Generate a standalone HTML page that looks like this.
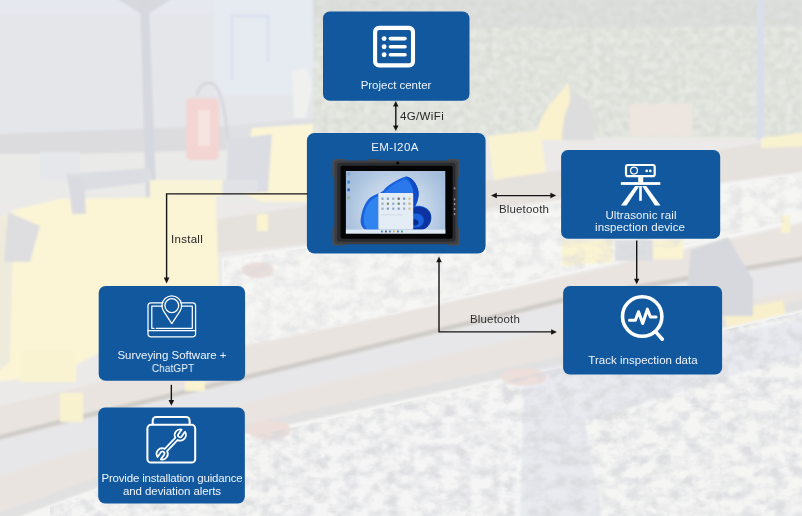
<!DOCTYPE html>
<html lang="en">
<head>
<meta charset="utf-8">
<title>EM-I20A rail inspection workflow</title>
<style>
  html, body { margin: 0; padding: 0; }
  body { width: 802px; height: 516px; overflow: hidden; background: #e9e8e6; font-family: "Liberation Sans", sans-serif; }
  #stage { position: relative; width: 802px; height: 516px; overflow: hidden; }
  #bg, #fg { position: absolute; left: 0; top: 0; width: 802px; height: 516px; }
  .t { position: absolute; width: 200px; text-align: center; font-size: 11.5px; line-height: 12px; white-space: nowrap; will-change: transform; }
</style>
</head>
<body>
<div id="stage">
<svg id="bg" viewBox="0 0 802 516">
  <defs>
    <filter id="b1" x="-5%" y="-5%" width="110%" height="110%"><feGaussianBlur stdDeviation="0.800"/></filter>
    <filter id="b2" x="-5%" y="-5%" width="110%" height="110%"><feGaussianBlur stdDeviation="0.900"/></filter>
    <filter id="nzveg" x="0" y="0" width="100%" height="100%" color-interpolation-filters="sRGB">
      <feTurbulence type="fractalNoise" baseFrequency="0.140 0.160" numOctaves="3" seed="7" result="n"/>
      <feColorMatrix in="n" type="matrix" values="0 0 0 0 0.820  0 0 0 0 0.835  0 0 0 0 0.800  1.600 1.600 0 0 -1.100"/>
      <feGaussianBlur stdDeviation="0.700"/>
      <feComposite operator="in" in2="SourceGraphic"/>
    </filter>
    <filter id="nzgrav" x="0" y="0" width="100%" height="100%" color-interpolation-filters="sRGB">
      <feTurbulence type="fractalNoise" baseFrequency="0.070 0.090" numOctaves="3" seed="11" result="n"/>
      <feColorMatrix in="n" type="matrix" values="0 0 0 0 0.840  0 0 0 0 0.845  0 0 0 0 0.860  1.800 1.800 0 0 -1.450"/>
      <feGaussianBlur stdDeviation="0.700"/>
      <feComposite operator="in" in2="SourceGraphic"/>
    </filter>
  </defs>
  <rect width="802" height="516" fill="#ebeae8"/>
  <g filter="url(#b2)">
    <!-- top-left container -->
    <rect x="-5" y="-5" width="318" height="138" fill="#e4e6ea"/>
    <rect x="-5" y="-5" width="318" height="19" fill="#e5e8ef"/>
    <rect x="215" y="0" width="98" height="95" fill="#e6eaf1"/>
    <path d="M232 80 V16 H268 V62" fill="none" stroke="#d9e1ee" stroke-width="2.500"/>
    <polygon points="292,72 306,68 312,84 306,118 294,118" fill="#f0f0ef"/>
    <polygon points="-5,134 225,126 225,150 -5,156" fill="#dcdcde"/>
    <polygon points="225,126 313,118 313,132 225,150" fill="#dfe0e3"/>
    <rect x="-5" y="154" width="330" height="50" fill="#eaeae8"/>
    <polygon points="113,-4 176,-4 150,13 139,13" fill="#d7d9df"/>
    <polygon points="140,0 148.800,0 156.500,200 146,200" fill="#d6d8df"/>
    <rect x="186" y="98" width="33" height="62" rx="5" fill="#f3d5d3"/>
    <rect x="198" y="110" width="12" height="36" fill="#f6e4e2"/>
    <path d="M197 96 C199 82 212 78 218 90 C224 102 226 120 228 140" fill="none" stroke="#d6d6da" stroke-width="2.500"/>
    <polygon points="252,128 313,124 313,202 262,202 240,192" fill="#fbf5d6"/>
    <polygon points="228,140 272,134 268,192 226,194" fill="#dcdde3"/>
    <rect x="40" y="152" width="40" height="28" fill="#e6e7ea"/>
    <polygon points="66,174 150,168 152,182 70,192" fill="#dcdde2"/>
    <!-- far rail -->
    <polygon points="200,222 306,206 490,180 565,170 720,150 810,134 810,170 720,182 565,198 490,208 306,244 200,254" fill="#e5e1dd"/>
    <!-- gravel between rails -->
    <polygon points="222,258 306,246 490,212 565,200 720,184 810,172 810,220 565,275 245,349 222,352" fill="#f6f6f4"/>
    <!-- yellow machine -->
    <polygon points="-5,222 14,210 60,199 216,196 219,300 219,352 100,352 60,374 -5,382" fill="#fbf5d6"/>
    <polygon points="-5,222 14,212 10,362 -5,374" fill="#eeebdc"/>
    <polygon points="8,212 40,226 30,262 4,262" fill="#dedee0"/><polygon points="68,178 84,178 86,214 72,214" fill="#dadbe0"/>
    <polygon points="150,180 222,180 222,196 150,202" fill="#faf4d6"/>
    <rect x="223" y="180" width="35" height="13" fill="#e1e2e5"/>
    <rect x="257" y="214" width="11" height="17" fill="#fbf4d0"/>
    <ellipse cx="258" cy="270" rx="16" ry="8" fill="#ebdfdb"/>
    <!-- vegetation top-right -->
    <rect x="313" y="18" width="500" height="120" fill="#e7e9e4"/>
    <rect x="313" y="-5" width="500" height="32" fill="#e0e1e0"/>
    <rect x="313" y="0" width="489" height="137" filter="url(#nzveg)" opacity="0.600"/>
    <rect x="757" y="0" width="7" height="140" fill="#dadeea"/>
    <path d="M568 82 C 560 96 541 106 535 140 L 571 140 C 566 120 572 100 568 82z" fill="#faf1cf"/>
    <path d="M578 95 C 590 98 596 120 594 140 L 562 140 C 562 118 568 100 578 95z" fill="#dddddd"/>
    <rect x="630" y="104" width="62" height="32" fill="#ede6e0"/>
    <polygon points="488,136 540,130 546,172 494,180" fill="#faf3d2"/>
    <!-- near rail -->
    <polygon points="-5,407 50,394 245,346 565,277 810,222 810,306 565,363 245,432 50,503 -5,524" fill="#eae4e0"/>
    <polygon points="-5,441 50,427 245,380 565,302 810,260 810,290 565,327 245,403 50,460 -5,478" fill="#e7e6e8"/>
    <polygon points="-5,436 50,422 245,375 565,297 810,255 810,260 565,302 245,380 50,427 -5,441" fill="#d0cdc9"/>
    <polygon points="-5,514 50,494 245,424 565,355 810,298 810,308 565,365 245,434 50,505 -5,526" fill="#e1e1e1"/>
    <polygon points="724,312 783,300 786,318 728,334" fill="#f8f0cc"/>
    <polygon points="691,250 728,237 753,280 753,316 700,316 687,290" fill="#d7d8dd"/>
    <rect x="781" y="215" width="9" height="18" fill="#f9f2d0"/>
    <polygon points="761,138 810,132 810,146 761,148" fill="#f9f2d0"/>
    <polygon points="562,240 613,240 613,262 562,266" fill="#fbf4d2"/>
    <rect x="653" y="240" width="30" height="19" fill="#fbf4d2"/>
    <rect x="615" y="240" width="38" height="21" fill="#dddee1"/>
    <rect x="185" y="381" width="20" height="10" fill="#faf3d0"/>
    <!-- clamps bottom-left -->
    <rect x="60" y="393" width="23" height="29" fill="#f9f2cf"/>
    <rect x="20" y="350" width="56" height="32" fill="#faf3d2"/>
    <!-- gravel bottom -->
    <polygon points="-5,526 50,505 245,434 565,365 810,308 810,520 -5,520" fill="#f5f5f4"/>
    <polygon points="524,372 810,318 810,352 585,421 602,520 520,520" fill="#e8eaef"/>
    <polygon points="280,445 520,395 520,520 280,520" fill="#f5f5f5"/>
    <ellipse cx="269" cy="430" rx="22" ry="10" fill="#ecdeda"/>
    <ellipse cx="524" cy="377" rx="23" ry="9" fill="#ecdeda"/>
  </g>
  <polygon points="50,507 245,438 565,367 802,312 802,516 50,516" filter="url(#nzgrav)" opacity="0.700"/>
  <polygon points="224,260 306,248 306,254 486,254 486,214 565,202 720,186 802,174 802,218 565,273 245,347 224,350" filter="url(#nzgrav)" opacity="0.450"/>
</svg>

<svg id="fg" viewBox="0 0 802 516">
  <defs>
    <radialGradient id="wp" gradientUnits="userSpaceOnUse" cx="397" cy="212" r="62">
      <stop offset="0" stop-color="#d3e0ee"/><stop offset="0.450" stop-color="#c6d7ea"/><stop offset="0.800" stop-color="#aac2de"/><stop offset="1" stop-color="#9fb9d8"/>
    </radialGradient>
  </defs>
  <!-- boxes -->
  <g fill="#11589e">
    <rect x="323" y="11.600" width="146.500" height="89.200" rx="6.800"/>
    <rect x="306.900" y="133.100" width="178.700" height="120.400" rx="7.500"/>
    <rect x="561.100" y="149.900" width="159.100" height="88.800" rx="6.800"/>
    <rect x="563.100" y="285.900" width="159" height="88.700" rx="6.800"/>
    <rect x="98.700" y="286" width="146.400" height="94.700" rx="6.800"/>
    <rect x="98.200" y="407.600" width="146.650" height="95.800" rx="6.800"/>
  </g>
  <!-- connectors -->
  <g stroke="#141414" stroke-width="1.400" fill="none">
    <path d="M395.800 105 V127"/>
    <path d="M307.500 193.850 H166.600 V279"/>
    <path d="M171.350 384.800 V401"/>
    <path d="M495 195.600 H552"/>
    <path d="M439 261 V331.900 H552"/>
    <path d="M636.700 240.600 V280"/>
  </g>
  <g fill="#141414">
    <path d="M395.800 101 l-2.700 5.600 h5.400z"/>
    <path d="M395.800 131 l-2.700 -5.600 h5.400z"/>
    <path d="M166.600 283.400 l-2.800 -5.800 h5.600z"/>
    <path d="M171.350 405.800 l-2.800 -5.700 h5.600z"/>
    <path d="M491 195.600 l5.800 -2.750 v5.500z"/>
    <path d="M556.200 195.600 l-5.800 -2.750 v5.500z"/>
    <path d="M439 256.500 l-2.750 5.800 h5.500z"/>
    <path d="M556.900 331.900 l-5.800 -2.750 v5.500z"/>
    <path d="M636.700 284.300 l-2.700 -5.500 h5.400z"/>
  </g>

  <!-- icon: project center (list) -->
  <g>
    <rect x="375.100" y="27.900" width="37.900" height="37.500" rx="4" fill="none" stroke="#fff" stroke-width="4.100"/>
    <g fill="#fff">
      <circle cx="384.100" cy="38.600" r="2.450"/><rect x="388.600" y="36.800" width="18.200" height="3.600" rx="1.800"/>
      <circle cx="384.100" cy="46.700" r="2.450"/><rect x="388.600" y="44.900" width="18.200" height="3.600" rx="1.800"/>
      <circle cx="384.100" cy="54.750" r="2.450"/><rect x="388.600" y="52.950" width="18.200" height="3.600" rx="1.800"/>
    </g>
  </g>

  <!-- icon: ultrasonic device (camera on tripod) -->
  <g fill="#fff">
    <rect x="626" y="165" width="28.700" height="11.200" rx="2" fill="none" stroke="#fff" stroke-width="2.200"/>
    <circle cx="634" cy="170.600" r="3.450" fill="none" stroke="#fff" stroke-width="1.250"/>
    <circle cx="646.700" cy="170.900" r="1.350"/><circle cx="650.300" cy="170.900" r="1.350"/>
    <rect x="638.200" y="176.800" width="5" height="5.600"/>
    <rect x="620.850" y="182.100" width="39.450" height="2.800"/>
    <rect x="639.200" y="186" width="2.600" height="14.800"/>
    <path d="M635.200 186 h4.200 l-12.900 19.600 h-5.600z"/>
    <path d="M642.100 186 h4.200 l14.200 19.600 h-5.600z"/>
  </g>

  <!-- icon: track inspection (magnifier with pulse) -->
  <g fill="none" stroke="#fff" stroke-linecap="round" stroke-linejoin="round">
    <circle cx="642.200" cy="316.500" r="19.700" stroke-width="3.600"/>
    <path d="M656.400 332.600 L662.300 339.200" stroke-width="3.600"/>
    <path d="M629.500 320.300 H635.400 L638.500 311.800 L642.700 323.600 L647.400 309.200 L650.400 317 H656" stroke-width="3.100"/>
  </g>

  <!-- icon: surveying (laptop with pin) -->
  <g fill="none" stroke="#fff" stroke-width="1.250" stroke-linecap="round" stroke-linejoin="round">
    <path d="M162.400 302.800 H151 a3 3 0 0 0 -3 3 V333.900 a3 3 0 0 0 3 3 H192.600 a3 3 0 0 0 3 -3 V305.800 a3 3 0 0 0 -3 -3 H181.200"/>
    <path d="M148 330.700 H195.600"/>
    <path d="M162 306.200 H151.800 V328.300 H154"/>
    <path d="M156.200 328.300 H192.300 V306.200 H181.600"/>
    <path d="M171.800 323.600 L163.600 311.070 A9.800 9.800 0 1 1 180 311.070 Z"/>
    <circle cx="171.800" cy="305.600" r="6.900"/>
  </g>

  <!-- icon: provide guidance (folder with wrench) -->
  <g fill="none" stroke="#fff" stroke-width="2.050" stroke-linejoin="round">
    <rect x="147.400" y="424.800" width="47.800" height="37.700" rx="3.600"/>
    <path d="M152.700 424.800 V420.400 a3.500 3.500 0 0 1 3.500 -3.500 H186.100 a3.500 3.500 0 0 1 3.500 3.500 V424.800"/>
  </g>
  <g transform="translate(171.250 444.400) rotate(-46.400)" fill="none" stroke="#fff" stroke-width="1.750" stroke-linejoin="round">
    <path d="M7.730 -1.600 A5.600 5.600 0 0 1 18 -2.710 L12.330 -1.910 A2 2 0 0 0 12.880 2.050 L18.560 1.250 A5.600 5.600 0 0 1 7.730 1.600 L-7.730 1.600 A5.600 5.600 0 0 1 -18 2.710 L-12.330 1.910 A2 2 0 0 0 -12.880 -2.050 L-18.560 -1.250 A5.600 5.600 0 0 1 -7.730 -1.600 Z"/>
  </g>

  <!-- tablet -->
  <g>
    <!-- corner bumpers -->
    <g fill="#4a4c50">
      <path d="M335.500 159.100 H345 V164 L336 177.300 H332.400 V162.200 Q332.400 159.100 335.500 159.100z"/>
      <path d="M456.900 159.100 H447.400 V164 L456.400 177.300 H460 V162.200 Q460 159.100 456.900 159.100z"/>
      <path d="M335.500 245.600 H345 V240.700 L336 227.400 H332.400 V242.500 Q332.400 245.600 335.500 245.600z"/>
      <path d="M456.900 245.600 H447.400 V240.700 L456.400 227.400 H460 V242.500 Q460 245.600 456.900 245.600z"/>
    </g>
    <rect x="334.300" y="160.400" width="123.800" height="83.800" rx="3.500" fill="#3d3f43"/>
    <rect x="366.800" y="159.200" width="12.600" height="1.600" fill="#45474b"/>
    <rect x="337" y="162.800" width="118.500" height="79" rx="3" fill="#2a2b2e"/>
    <rect x="340.600" y="165.700" width="112.100" height="73.100" rx="1.800" fill="#050506"/>
    <rect x="345.900" y="171" width="99.400" height="62.500" fill="url(#wp)"/>
    <!-- bloom -->
    <path d="M365 229.600 C360.500 227 360 221 361.100 216.800 C362.200 210 365 201.500 371 197 C375 194 380 193.500 383.500 190.400 C388 185 396 180 405.900 176.600 C412 177.500 416.500 183 418.300 190.500 C419.300 196 417.500 202.500 415.200 206.200 C420 204.800 426.500 207 429.700 211.500 C432.500 216 432 223 427 227.300 C425.500 228.600 423.500 229.600 421.800 229.600 Z" fill="#1a62dc"/>
    <path d="M365.500 227 C362.500 222 363.500 212 367.500 205 C370 200.500 374 197.500 378.300 196 L378.300 229.600 L367 229.600 Z" fill="#2f84f0"/>
    <path d="M386 191 C391 185.500 398 181.500 405 179.500 C409 181 412 185 413.200 190 L413.200 193.100 L384 193.100 Z" fill="#2a78ec"/>
    <path d="M405.900 176.600 C412 177.500 416.500 183 418.300 190.500 C419.300 196 417.500 202.500 415.200 206.200 L413.200 206 L413.200 190 C412 185 409.500 180 405.900 176.600 Z" fill="#0f4ac8"/>
    <path d="M413.200 207.500 C420 205.500 426.500 207.500 429.500 212 C432 216.500 431.500 222.500 427 227 C425.500 228.500 423.500 229.600 421.800 229.600 L413.200 229.600 Z" fill="#0c339f"/>
    <path d="M413.200 214 C418.500 212.500 423.500 215.500 423.800 220 C424 224 420.500 227.500 416 227.500 L413.200 227.500 Z" fill="#1b63de"/>
    <path d="M413.200 219.500 C416 218.800 418.500 220.200 418.500 222.500 C418.500 224.500 416.500 225.800 414.500 225.500 L413.200 225.300 Z" fill="#0a2a8c"/>
    <!-- start menu -->
    <rect x="378.300" y="193.100" width="34.900" height="36.300" rx="1" fill="#e4ecf5"/>
    <g>
      <rect x="381.400" y="197.600" width="2.200" height="2.200" fill="#8fa7c6"/><rect x="386.800" y="197.600" width="2.200" height="2.200" fill="#7d9cc4"/><rect x="392.200" y="197.600" width="2.200" height="2.200" fill="#9ab0cc"/><rect x="397.600" y="197.600" width="2.200" height="2.200" fill="#66675c"/><rect x="403" y="197.600" width="2.200" height="2.200" fill="#6f96c8"/><rect x="408.400" y="197.600" width="2.200" height="2.200" fill="#d6c38a"/>
      <rect x="381.400" y="202.600" width="2.200" height="2.200" fill="#9ab0cc"/><rect x="386.800" y="202.600" width="2.200" height="2.200" fill="#7f8c74"/><rect x="392.200" y="202.600" width="2.200" height="2.200" fill="#8fa7c6"/><rect x="397.600" y="202.600" width="2.200" height="2.200" fill="#5f9363"/><rect x="403" y="202.600" width="2.200" height="2.200" fill="#8fa7c6"/><rect x="408.400" y="202.600" width="2.200" height="2.200" fill="#d6b56a"/>
      <rect x="381.400" y="207.600" width="2.200" height="2.200" fill="#9ab0cc"/><rect x="386.800" y="207.600" width="2.200" height="2.200" fill="#7d9cc4"/><rect x="392.200" y="207.600" width="2.200" height="2.200" fill="#8fa7c6"/><rect x="397.600" y="207.600" width="2.200" height="2.200" fill="#7d9cc4"/><rect x="403" y="207.600" width="2.200" height="2.200" fill="#9ab0cc"/><rect x="408.400" y="207.600" width="2.200" height="2.200" fill="#d6c38a"/>
    </g>
    <rect x="380.500" y="214.600" width="22" height="0.600" fill="#c3ccd8"/>
    <!-- taskbar -->
    <rect x="345.900" y="229.600" width="99.400" height="3.900" fill="#dfe9f4"/>
    <g><rect x="381" y="230.600" width="1.800" height="1.800" fill="#3f7fd6"/><rect x="385" y="230.600" width="1.800" height="1.800" fill="#555"/><rect x="389" y="230.600" width="1.800" height="1.800" fill="#3f7fd6"/><rect x="393" y="230.600" width="1.800" height="1.800" fill="#d9a642"/><rect x="397" y="230.600" width="1.800" height="1.800" fill="#3f7fd6"/><rect x="401" y="230.600" width="1.800" height="1.800" fill="#3aa55d"/></g>
    <!-- desktop icons -->
    <g><rect x="347.400" y="172.600" width="2.400" height="2.800" fill="#7ba3d6"/><rect x="347.400" y="180.600" width="2.400" height="3" fill="#3f86d8"/><rect x="347.400" y="188.400" width="2.400" height="2.800" fill="#2f62b8"/><rect x="347.400" y="196.400" width="2.400" height="2.800" fill="#8fb08a"/></g>
    <!-- camera, side buttons -->
    <circle cx="397.700" cy="162.900" r="1.500" fill="#000"/>
    <g fill="#8a8c92"><rect x="453.800" y="187.200" width="1.600" height="2.200" rx="0.600"/><rect x="453.800" y="198.200" width="1.600" height="2.200" rx="0.600"/><rect x="453.800" y="203" width="1.600" height="2.200" rx="0.600"/><rect x="453.800" y="208" width="1.600" height="2.200" rx="0.600"/><rect x="453.800" y="213" width="1.600" height="2.200" rx="0.600"/></g>
  </g>
</svg>

<div class="t" style="left:295.75px;top:79.42px;color:#eef4fb;letter-spacing:-0.015px;font-size:11.5px;">Project center</div>
<div class="t" style="left:321.90px;top:109.72px;color:#262626;letter-spacing:0.378px;font-size:11.5px;">4G/WiFi</div>
<div class="t" style="left:295.35px;top:140.52px;color:#eef4fb;letter-spacing:0.412px;font-size:11.5px;">EM-I20A</div>
<div class="t" style="left:86.85px;top:232.82px;color:#262626;letter-spacing:0.266px;font-size:11.5px;">Install</div>
<div class="t" style="left:424.35px;top:202.72px;color:#303030;letter-spacing:0.181px;font-size:11.5px;">Bluetooth</div>
<div class="t" style="left:394.50px;top:313.32px;color:#303030;letter-spacing:0.149px;font-size:11.5px;">Bluetooth</div>
<div class="t" style="left:540.60px;top:209.12px;color:#eef4fb;letter-spacing:0.102px;font-size:11.5px;">Ultrasonic rail</div>
<div class="t" style="left:540.20px;top:221.22px;color:#eef4fb;letter-spacing:0.108px;font-size:11.5px;">inspection device</div>
<div class="t" style="left:542.95px;top:353.97px;color:#eef4fb;letter-spacing:0.02px;font-size:11.5px;">Track inspection data</div>
<div class="t" style="left:71.50px;top:349.42px;color:#eef4fb;letter-spacing:-0.03px;font-size:11.5px;">Surveying Software +</div>
<div class="t" style="left:73.05px;top:361.92px;color:#eef4fb;letter-spacing:0.0px;font-size:11.5px;transform:scaleX(0.883);">ChatGPT</div>
<div class="t" style="left:71.80px;top:471.62px;color:#eef4fb;letter-spacing:-0.185px;font-size:11.5px;">Provide installation guidance</div>
<div class="t" style="left:71.60px;top:485.32px;color:#eef4fb;letter-spacing:-0.088px;font-size:11.5px;">and deviation alerts</div>
</div>
</body>
</html>
